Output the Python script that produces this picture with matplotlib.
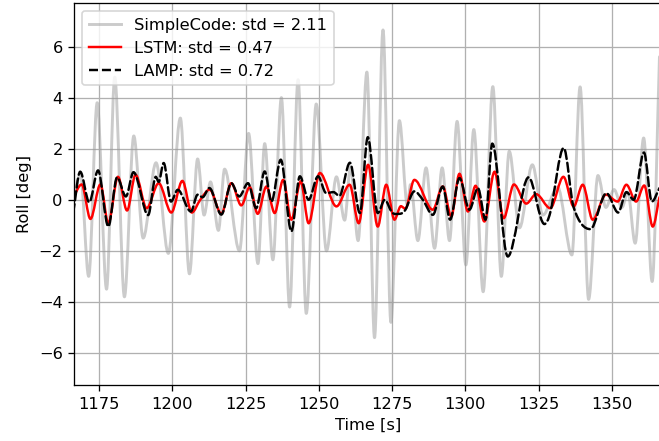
import matplotlib
matplotlib.use("Agg")
import matplotlib.pyplot as plt
from matplotlib.path import Path
from matplotlib.patches import PathPatch

# ---------------- data ----------------
simple_t = [1166.1, 1168.6, 1171.4, 1174.3, 1177.5, 1180.3, 1183.6, 1186.8, 1190.0, 1194.4,
            1198.6, 1202.7, 1205.8, 1208.6, 1210.8, 1213.0, 1215.7, 1217.8, 1222.9, 1226.0,
            1229.2, 1231.5, 1234.3, 1237.2, 1240.0, 1242.9, 1245.7, 1249.1, 1252.6, 1256.0,
            1258.8, 1260.8, 1263.4, 1266.4, 1269.0, 1271.9, 1274.6, 1277.5, 1280.2, 1281.3,
            1283.8, 1286.6, 1289.5, 1292.1, 1294.6, 1297.2, 1300.2, 1302.9, 1306.1, 1309.4,
            1312.3, 1315.0, 1318.5, 1322.9, 1326.5, 1331.5, 1336.4, 1339.2, 1342.1, 1345.3,
            1348.0, 1350.8, 1353.5, 1355.5, 1358.0, 1360.9, 1363.8, 1366.3]
simple_v = [0.0, 1.0, -3.0, 3.8, -3.5, 4.8, -3.8, 2.5, -1.5, 1.45,
            -2.1, 3.2, -2.9, 1.6, -0.6, 0.7, -1.2, 1.2, -2.0, 2.6,
            -2.5, 2.2, -2.35, 4.0, -4.2, 4.7, -4.45, 3.75, -2.0, 0.9,
            -0.8, 1.3, -1.6, 5.0, -5.4, 6.65, -4.8, 3.1, -0.2, 0.6,
            -1.6, 1.25, -1.9, 1.25, -1.6, 3.07, -2.55, 2.75, -3.6, 4.43,
            -3.0, 1.9, -1.1, 1.37, -0.6, 0.5, -2.16, 4.42, -3.9, 0.95,
            -0.3, 0.4, -0.3, 0.3, -1.7, 2.42, -3.2, 5.6]

lstm_t = [1166.1, 1169.0, 1172.0, 1175.4, 1178.1, 1181.4, 1184.5, 1187.4, 1191.2, 1195.3,
          1199.6, 1203.4, 1206.6, 1209.5, 1212.7, 1216.7, 1220.1, 1223.5, 1226.4, 1229.1,
          1232.1, 1234.9, 1237.8, 1240.6, 1243.8, 1246.5, 1250.3, 1256.0, 1260.5, 1263.6,
          1266.8, 1270.1, 1273.0, 1275.8, 1278.0, 1279.5, 1282.6, 1288.9, 1292.3, 1295.2,
          1298.0, 1300.9, 1303.5, 1306.5, 1310.0, 1313.1, 1316.6, 1320.8, 1324.2, 1329.0,
          1333.5, 1337.0, 1340.1, 1343.5, 1348.0, 1352.0, 1355.0, 1358.3, 1361.1, 1364.0,
          1366.3]
lstm_v = [0.1, 0.6, -0.75, 0.6, -0.92, 0.9, -0.42, 0.98, -0.33, 0.65,
          -0.5, 0.74, -0.5, 0.0, 0.4, -0.55, 0.65, -0.22, 0.5, -0.55,
          0.52, -0.52, 0.78, -0.78, 0.72, -0.92, 1.05, -0.26, 0.59, -0.92,
          1.37, -1.05, 0.59, -0.78, -0.25, -0.35, 0.78, -0.39, 0.52, -0.65,
          1.02, -0.46, 0.55, -0.85, 1.1, -0.72, 0.6, -0.15, 0.22, -0.33,
          0.9, -0.26, 0.59, -0.78, 0.2, -0.07, 0.59, -0.07, 0.56, -1.05,
          0.1]

lamp_t = [1166.1, 1168.5, 1171.6, 1174.6, 1178.1, 1181.1, 1184.1, 1186.7, 1191.7, 1194.3,
          1195.3, 1197.0, 1199.5, 1201.8, 1206.3, 1208.6, 1210.3, 1212.6, 1216.7, 1220.1,
          1222.8, 1225.8, 1228.6, 1231.5, 1233.8, 1237.0, 1240.6, 1243.5, 1246.5, 1249.7,
          1252.5, 1255.0, 1257.0, 1260.6, 1264.0, 1266.7, 1270.1, 1272.5, 1275.0, 1277.5,
          1279.5, 1282.6, 1285.5, 1288.9, 1292.3, 1294.8, 1298.0, 1301.4, 1304.3, 1306.9,
          1309.2, 1314.5, 1321.6, 1327.0, 1329.0, 1333.6, 1337.0, 1342.7, 1348.2, 1352.2,
          1355.0, 1357.5, 1361.0, 1363.7, 1366.3]
lamp_v = [-0.52, 1.1, -0.1, 1.15, -1.05, 0.88, 0.13, 1.08, -0.6, 0.9,
          0.7, 1.44, -0.07, 0.39, -0.46, 0.2, 0.1, 0.46, -0.58, 0.65,
          0.13, 0.65, -0.33, 1.11, -0.07, 1.57, -1.24, 0.92, 0.0, 0.92,
          0.26, 0.3, 0.15, 1.45, -0.52, 2.45, -0.52, 0.0, -0.5, -0.55,
          -0.4, 0.33, 0.0, -0.59, 0.52, -0.78, 0.85, -0.39, 0.46, -0.78,
          2.2, -2.22, 0.88, -0.95, -0.5, 2.03, -0.3, -1.15, 0.26, -0.5,
          0.3, 0.0, 1.85, -0.07, 0.46]

names = ["SimpleCode", "LSTM", "LAMP"]
stds = ["2.11", "0.47", "0.72"]


def smooth_path(ts, vs):
    # bezier path through the read points: flat at turning points,
    # secant slope elsewhere, so the curve looks like the smooth signal
    n = len(ts)
    slopes = []
    for i in range(n):
        if i == 0:
            m = (vs[1] - vs[0]) / (ts[1] - ts[0])
        elif i == n - 1:
            m = (vs[-1] - vs[-2]) / (ts[-1] - ts[-2])
        elif (vs[i] - vs[i - 1]) * (vs[i + 1] - vs[i]) <= 0:
            m = 0.0
        else:
            m = (vs[i + 1] - vs[i - 1]) / (ts[i + 1] - ts[i - 1])
        slopes.append(m)
    verts = [(ts[0], vs[0])]
    codes = [Path.MOVETO]
    for i in range(n - 1):
        dt = ts[i + 1] - ts[i]
        verts.append((ts[i] + dt / 3, vs[i] + slopes[i] * dt / 3))
        verts.append((ts[i + 1] - dt / 3, vs[i + 1] - slopes[i + 1] * dt / 3))
        verts.append((ts[i + 1], vs[i + 1]))
        codes += [Path.CURVE4] * 3
    return Path(verts, codes)


# ---------------- figure ----------------
dpi = 117
fig = plt.figure(figsize=(659.4 / dpi, 441.4 / dpi), dpi=dpi)
ax = fig.add_axes([74 / 659, 1 - 385 / 441, 588 / 659, 382 / 441])

styles = [
    dict(color="0.6", alpha=0.5, lw=1.8, ls="-"),
    dict(color="red", alpha=1.0, lw=1.5, ls="-"),
    dict(color="black", alpha=1.0, lw=1.5, ls="--"),
]
series = [(simple_t, simple_v), (lstm_t, lstm_v), (lamp_t, lamp_v)]

for k, ((ts, vs), st) in enumerate(zip(series, styles)):
    ax.add_patch(PathPatch(smooth_path(ts, vs), fill=False, edgecolor=st["color"],
                           alpha=st["alpha"], lw=st["lw"], ls=st["ls"],
                           capstyle="round", joinstyle="round", zorder=2 + 0.1 * k))
    # legend entry
    ax.plot([], [], color=st["color"], alpha=st["alpha"], lw=st["lw"], ls=st["ls"],
            label=f"{names[k]}: std = {stds[k]}")

ax.set_xlim(1166.4, 1367.3)
ax.set_ylim(-7.25, 7.72)
ax.set_xticks([1175, 1200, 1225, 1250, 1275, 1300, 1325, 1350])
ax.set_yticks([-6, -4, -2, 0, 2, 4, 6])
ax.grid(True)
ax.set_xlabel("Time [s]")
ax.set_ylabel("Roll [deg]")
ax.legend(loc="upper left")

fig.savefig("out.png", dpi=dpi)
